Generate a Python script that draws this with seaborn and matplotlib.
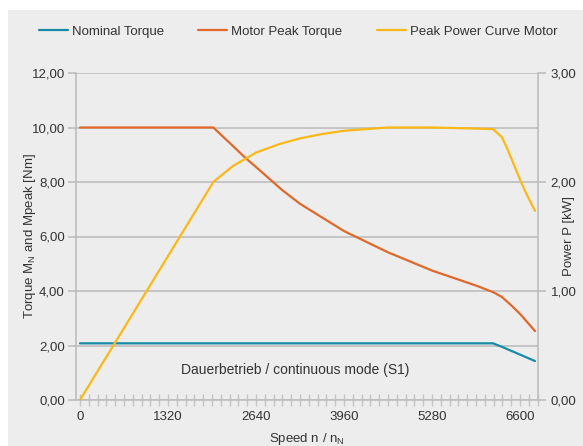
import matplotlib
matplotlib.use("Agg")
import matplotlib.pyplot as plt
import seaborn as sns
import pandas as pd
from matplotlib.patches import Rectangle
from matplotlib.ticker import MultipleLocator, FuncFormatter

# ---- data ----
speed_peak = [0, 2000, 2475, 2640, 3030, 3300, 3960, 4620, 5280, 5940, 6195, 6330, 6480, 6615, 6825]
peak_torque = [10.0, 10.0, 8.9, 8.55, 7.71, 7.2, 6.2, 5.42, 4.75, 4.2, 3.96, 3.78, 3.45, 3.12, 2.53]

speed_nom = [0, 6195, 6330, 6825]
nominal_torque = [2.08, 2.08, 1.95, 1.43]

speed_power = [0, 2000, 2300, 2475, 2640, 3000, 3300, 3630, 3960, 4620, 5280, 5940, 6195, 6330, 6420, 6615, 6705, 6825]
peak_power = [0.0, 2.0, 2.15, 2.21, 2.27, 2.35, 2.40, 2.44, 2.47, 2.5, 2.5, 2.49, 2.485, 2.41, 2.29, 2.0, 1.88, 1.735]

x_ticks = [0, 1320, 2640, 3960, 5280, 6600]
labels = ["Nominal Torque", "Motor Peak Torque", "Peak Power Curve Motor"]
colors = ["#178aa8", "#e0692a", "#fbb817"]

sns.set_style("white")
plt.rcParams["font.family"] = ["Liberation Sans", "DejaVu Sans"]
plt.rcParams["mathtext.fontset"] = "custom"
plt.rcParams["mathtext.rm"] = "Liberation Sans"
plt.rcParams["mathtext.it"] = "Liberation Sans"

W, H = 583, 446
fs = 9.5
fig = plt.figure(figsize=(W / 100, H / 100), dpi=100)
fig.patch.set_facecolor("white")
bg = "#ededed"
fig.patches.append(Rectangle((8 / W, 0), 1, 1 - 10 / H, transform=fig.transFigure,
                             facecolor=bg, edgecolor="none", zorder=-10))

ax = fig.add_axes([76 / W, 1 - 400 / H, (538 - 76) / W, (400 - 73) / H])
ax.set_facecolor("none")
ax2 = ax.twinx()
ax2.set_facecolor("none")

df_nom = pd.DataFrame({"speed": speed_nom, "torque": nominal_torque})
df_peak = pd.DataFrame({"speed": speed_peak, "torque": peak_torque})
df_pow = pd.DataFrame({"speed": speed_power, "power": peak_power})

lw = 1.6
sns.lineplot(data=df_nom, x="speed", y="torque", ax=ax, color=colors[0], lw=lw,
             label=labels[0], legend=False, zorder=5)
sns.lineplot(data=df_peak, x="speed", y="torque", ax=ax, color=colors[1], lw=lw,
             label=labels[1], legend=False, zorder=5)
sns.lineplot(data=df_pow, x="speed", y="power", ax=ax2, color=colors[2], lw=lw,
             label=labels[2], legend=False, zorder=5)

ax.set_xlim(-60, 6870)
ax.set_ylim(0, 12)
ax2.set_ylim(0, 3)
ax.set_xticks(x_ticks)
ax.xaxis.set_minor_locator(MultipleLocator(132))
ax.set_yticks(range(0, 13, 2))
ax2.set_yticks([0, 1, 2, 3])
fmt = FuncFormatter(lambda v, p: f"{v:.2f}".replace(".", ","))
ax.yaxis.set_major_formatter(fmt)
ax2.yaxis.set_major_formatter(fmt)

grid_c = "#bdbdbd"
ax.grid(axis="y", color=grid_c, lw=1.2)
ax.set_axisbelow(True)
for a in (ax, ax2):
    a.spines["top"].set_visible(False)
    for s in ("left", "right", "bottom"):
        a.spines[s].set_color(grid_c)
        a.spines[s].set_linewidth(1.2)
ax2.spines["left"].set_visible(False)
ax.spines["right"].set_visible(False)
ax2.spines["bottom"].set_visible(False)

tick_c = "#333333"
ax.tick_params(axis="x", which="both", direction="inout", length=8, width=1, color="#c4c4c4",
               labelsize=fs, labelcolor=tick_c, pad=4, bottom=True)
ax.tick_params(axis="y", which="major", direction="out", length=6, width=1.2, color=grid_c,
               labelsize=fs, labelcolor=tick_c, pad=2, left=True)
ax2.tick_params(axis="y", which="major", direction="out", length=6, width=1.2, color=grid_c,
                labelsize=fs, labelcolor=tick_c, pad=3, right=True)

ax.set_xlabel("Speed n / n$_\\mathrm{N}$", fontsize=fs, color=tick_c)
ax.xaxis.set_label_coords(0.5, -(431 - 400) / (400 - 73))
ax.set_ylabel("Torque M$_\\mathrm{N}$ and Mpeak [Nm]", fontsize=fs, color=tick_c)
ax.yaxis.set_label_coords(-(76 - 38) / (538 - 76), 0.5)
ax2.set_ylabel("Power P [kW]", fontsize=fs, color=tick_c)
ax2.yaxis.set_label_coords(1 + (563 - 538) / (538 - 76), 0.5)

ax.text(3225, 1.1, "Dauerbetrieb / continuous mode (S1)", ha="center", va="center",
        fontsize=10, color=tick_c)

h1, l1 = ax.get_legend_handles_labels()
h2, l2 = ax2.get_legend_handles_labels()
fig.legend(h1 + h2, l1 + l2, loc="center", bbox_to_anchor=(298 / W, 1 - 32 / H), ncol=3,
           frameon=False, fontsize=fs, handlelength=2.2, columnspacing=2.6, handletextpad=0.3,
           labelcolor=tick_c)

fig.savefig("out.png", dpi=100, facecolor="white")
